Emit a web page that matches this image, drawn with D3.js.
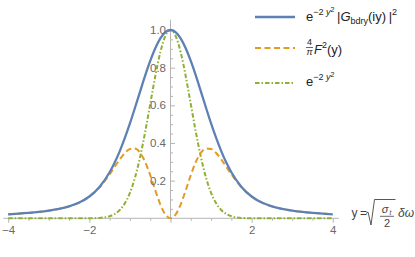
<!DOCTYPE html>
<html><head><meta charset="utf-8">
<script src="https://cdn.jsdelivr.net/npm/d3@7"></script>
<style>html,body{margin:0;padding:0;background:#fff;}svg{display:block;font-family:"Liberation Sans",Arial,sans-serif;}</style>
</head><body>
<svg id="c" width="415" height="257"></svg>
<script>
const yGrid = [-4,-3.75,-3.5,-3.25,-3,-2.75,-2.5,-2.25,-2,-1.75,-1.5,-1.375,-1.25,-1.125,-1,-0.875,-0.75,-0.625,-0.5,-0.375,-0.25,-0.125,0,
  0.125,0.25,0.375,0.5,0.625,0.75,0.875,1,1.125,1.25,1.375,1.5,1.75,2,2.25,2.5,2.75,3,3.25,3.5,3.75,4];
const blueValues = [0.0213,0.0245,0.0285,0.0336,0.0405,0.0498,0.0634,0.0836,0.1159,0.1666,0.2446,0.2963,0.3569,0.4266,0.5039,0.5871,0.6730,0.7574,0.8358,0.9035,0.9557,0.9887,1,
  0.9887,0.9557,0.9035,0.8358,0.7574,0.6730,0.5871,0.5039,0.4266,0.3569,0.2963,0.2446,0.1666,0.1159,0.0836,0.0634,0.0498,0.0405,0.0336,0.0285,0.0245,0.0213];
const orangeValues = [0.0213,0.0245,0.0285,0.0336,0.0405,0.0498,0.0634,0.0836,0.1156,0.1644,0.2335,0.2735,0.3130,0.3470,0.3686,0.3708,0.3483,0.2996,0.2293,0.1487,0.0732,0.0195,0,
  0.0195,0.0732,0.1487,0.2293,0.2996,0.3483,0.3708,0.3686,0.3470,0.3130,0.2735,0.2335,0.1644,0.1156,0.0836,0.0634,0.0498,0.0405,0.0336,0.0285,0.0245,0.0213];
const greenValues = [0,0,0,0,0,0,0,0,0.0003,0.0022,0.0111,0.0228,0.0439,0.0796,0.1353,0.2163,0.3247,0.4578,0.6065,0.7548,0.8825,0.9692,1,
  0.9692,0.8825,0.7548,0.6065,0.4578,0.3247,0.2163,0.1353,0.0796,0.0439,0.0228,0.0111,0.0022,0.0003,0,0,0,0,0,0,0,0];
const xTickLabels = [-4,-2,2,4];
const yTickLabels = [0.2,0.4,0.6,0.8,1.0];

const svg = d3.select("#c");
const x = d3.scaleLinear().domain([-4,4]).range([8.2,332.8]);
const y = d3.scaleLinear().domain([0,1]).range([218.3,30]);
const axisColor = "#b5b5b5", labelColor = "#6a6a6a";

const g = svg.append("g");
const xMinor = d3.range(-4,4.01,0.5).filter(v=>Math.abs(v%2)>0.01);
g.append("g").attr("transform",`translate(0,${y(0)})`)
  .call(d3.axisBottom(x).tickValues(xMinor).tickSize(2.5).tickFormat(""))
  .call(s=>{s.select(".domain").remove(); s.selectAll("line").attr("stroke",axisColor);});
g.append("g").attr("transform",`translate(0,${y(0)})`)
  .call(d3.axisBottom(x).tickValues(xTickLabels.concat([0])).tickSize(4.5).tickPadding(3).tickFormat(d=>d===0?"":(d<0?"\u2212"+Math.abs(d):d)))
  .call(s=>{s.select(".domain").remove(); s.selectAll("line").attr("stroke",axisColor);
    s.selectAll("text").attr("fill",labelColor).attr("font-size","11.5px").attr("font-family","Liberation Sans, Arial, sans-serif");});
g.append("line").attr("x1",x(-4.12)).attr("x2",x(4.15)).attr("y1",y(0)).attr("y2",y(0)).attr("stroke",axisColor);

const yMinor = d3.range(0.05,1.04,0.05).filter(v=>Math.abs((v*5)-Math.round(v*5))>0.01);
g.append("g").attr("transform",`translate(${x(0)},0)`)
  .call(d3.axisRight(y).tickValues(yMinor).tickSize(2.5).tickFormat(""))
  .call(s=>{s.select(".domain").remove(); s.selectAll("line").attr("stroke",axisColor);});
g.append("g").attr("transform",`translate(${x(0)},0)`)
  .call(d3.axisRight(y).tickValues(yTickLabels).tickSize(4.5).tickFormat(""))
  .call(s=>{s.select(".domain").remove(); s.selectAll("line").attr("stroke",axisColor);});
g.append("line").attr("x1",x(0)).attr("x2",x(0)).attr("y1",y(0)).attr("y2",y(1.055)).attr("stroke",axisColor);

const line = vals => d3.line().x((d,i)=>x(yGrid[i])).y(d=>y(d)).curve(d3.curveMonotoneX)(vals);
svg.append("path").attr("d",line(greenValues)).attr("fill","none").attr("stroke","#8FB032").attr("stroke-width",2).attr("stroke-dasharray","4.5,2,1.5,2");
svg.append("path").attr("d",line(orangeValues)).attr("fill","none").attr("stroke","#E19C24").attr("stroke-width",2).attr("stroke-dasharray","6,3.5");
svg.append("path").attr("d",line(blueValues)).attr("fill","none").attr("stroke","#5E81B5").attr("stroke-width",2.3);

const yl = svg.append("g");
yTickLabels.forEach(v=>{
  yl.append("text").attr("x",x(0)-4.5).attr("y",y(v)).attr("dy","0.35em").attr("text-anchor","end")
    .attr("fill",labelColor).attr("font-size","11.5px").text(v.toFixed(1));
});

// legend
const leg = svg.append("g");
const legFont = "13px";
leg.append("line").attr("x1",255).attr("x2",295).attr("y1",17).attr("y2",17).attr("stroke","#5E81B5").attr("stroke-width",2.3);
leg.append("line").attr("x1",255).attr("x2",295).attr("y1",48).attr("y2",48).attr("stroke","#E19C24").attr("stroke-width",2).attr("stroke-dasharray","6,3.5");
leg.append("line").attr("x1",255).attr("x2",295).attr("y1",83).attr("y2",83).attr("stroke","#8FB032").attr("stroke-width",2).attr("stroke-dasharray","4.5,2,1.5,2");

const t1 = leg.append("text").attr("x",306).attr("y",20.5).attr("font-size",legFont).attr("fill","#222");
t1.append("tspan").text("e");
t1.append("tspan").attr("dy",-6).attr("font-size","9px").text("\u22122 ");
t1.append("tspan").attr("font-size","9px").attr("font-style","italic").text("y");
t1.append("tspan").attr("dy",-3).attr("font-size","7px").text("2");
t1.append("tspan").attr("dy",9).text("\u2009|");
t1.append("tspan").attr("font-style","italic").text("G");
t1.append("tspan").attr("dy",3).attr("font-size","9px").text("bdry");
t1.append("tspan").attr("dy",-3).text("(iy)\u2009|");
t1.append("tspan").attr("dy",-6).attr("font-size","9px").text("2");

leg.append("text").attr("x",309.5).attr("y",45).attr("text-anchor","middle").attr("font-size","9px").attr("fill","#222").text("4");
leg.append("line").attr("x1",306).attr("x2",313).attr("y1",47.5).attr("y2",47.5).attr("stroke","#222").attr("stroke-width",0.7);
leg.append("text").attr("x",309.5).attr("y",55).attr("text-anchor","middle").attr("font-size","9px").attr("font-style","italic").attr("fill","#222").text("\u03C0");
const t2 = leg.append("text").attr("x",314).attr("y",54).attr("font-size",legFont).attr("fill","#222");
t2.append("tspan").attr("font-style","italic").text("F");
t2.append("tspan").attr("dy",-6).attr("font-size","9px").text("2");
t2.append("tspan").attr("dy",6).text("(y)");

const t3 = leg.append("text").attr("x",306).attr("y",86).attr("font-size",legFont).attr("fill","#222");
t3.append("tspan").text("e");
t3.append("tspan").attr("dy",-6).attr("font-size","9px").text("\u22122 ");
t3.append("tspan").attr("font-size","9px").attr("font-style","italic").text("y");
t3.append("tspan").attr("dy",-3).attr("font-size","7px").text("2");

// axis label
const al = svg.append("g").attr("fill","#444");
al.append("text").attr("x",351.5).attr("y",217).attr("font-size","12px").text("y\u2009=");
al.append("path").attr("d","M366,213.5 L368,212 L371,225 L374.5,199.5 L395.5,199.5").attr("fill","none").attr("stroke","#444").attr("stroke-width",0.9);
al.append("text").attr("x",385).attr("y",213).attr("text-anchor","middle").attr("font-size","11px").attr("font-style","italic").text("\u03C3");
al.append("text").attr("x",389.5).attr("y",214.5).attr("font-size","6.5px").attr("font-style","italic").text("t");
al.append("line").attr("x1",380).attr("x2",394).attr("y1",216.3).attr("y2",216.3).attr("stroke","#444").attr("stroke-width",0.8);
al.append("text").attr("x",387).attr("y",226.5).attr("text-anchor","middle").attr("font-size","11px").text("2");
al.append("text").attr("x",398).attr("y",217).attr("font-size","12px").attr("font-style","italic").text("\u03B4\u03C9");
</script>
</body></html>
